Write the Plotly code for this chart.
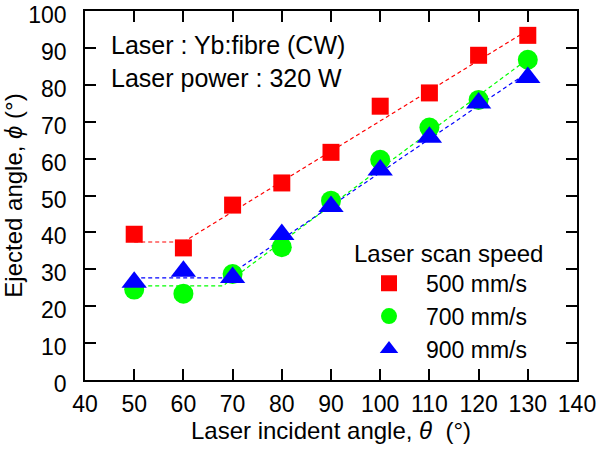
import plotly.graph_objects as go

# ---- data ----
angles = [50, 60, 70, 80, 90, 100, 110, 120, 130]
speed_labels = ["500 mm/s", "700 mm/s", "900 mm/s"]
phi_500 = [39.5, 35.8, 47.4, 53.4, 61.7, 74.2, 77.8, 88.0, 93.4]
phi_700 = [24.5, 23.4, 28.7, 36.0, 48.6, 59.7, 68.4, 75.9, 86.8]
phi_900 = [26.5, 29.5, 27.8, 39.4, 47.0, 56.9, 65.8, 75.1, 82.0]

# dashed guide lines (breakpoints)
fit_500_x = [50, 60, 130]
fit_500_y = [37.4, 37.4, 94.8]
fit_700_x = [50, 68, 130]
fit_700_y = [25.5, 25.5, 87.0]
fit_900_x = [50, 68.5, 130]
fit_900_y = [27.7, 27.7, 83.4]

x_ticks = [40, 50, 60, 70, 80, 90, 100, 110, 120, 130, 140]
y_ticks = [0, 10, 20, 30, 40, 50, 60, 70, 80, 90, 100]

colors = ["#ff0000", "#00ff00", "#0000ff"]
symbols = ["square", "circle", "triangle-up"]
sizes = [17, 20, 22]

FONT = "Liberation Sans, Arial, sans-serif"

fig = go.Figure()

fits = [(fit_500_x, fit_500_y), (fit_700_x, fit_700_y), (fit_900_x, fit_900_y)]
for (fx, fy), c in zip(fits, colors):
    fig.add_trace(go.Scatter(x=fx, y=fy, mode="lines",
                             line=dict(color=c, width=1.2, dash="4px,3px"),
                             showlegend=False, hoverinfo="skip"))

for ys, name, c, s, sz in zip([phi_500, phi_700, phi_900], speed_labels, colors, symbols, sizes):
    fig.add_trace(go.Scatter(x=angles, y=ys, mode="markers", name=name,
                             marker=dict(color=c, symbol=s, size=sz, line=dict(width=0))))

axis_common = dict(showgrid=False, zeroline=False, showline=True, linecolor="black",
                   linewidth=1.5, mirror="ticks", ticks="inside", ticklen=11,
                   tickwidth=1.5, tickcolor="black", ticklabeloverflow="allow",
                   automargin=False,
                   tickfont=dict(family=FONT, size=23, color="black"))

fig.update_layout(
    width=600, height=455,
    margin=dict(l=85, r=23, t=11, b=75),
    paper_bgcolor="white", plot_bgcolor="white",
    font=dict(family=FONT, color="black"),
    xaxis=dict(range=[40, 140], tickvals=x_ticks, ticklabelstandoff=3,
               title=dict(text="Laser incident angle, <i>θ</i>  (°)",
                          font=dict(family=FONT, size=24), standoff=2),
               **axis_common),
    yaxis=dict(range=[0, 100], tickvals=y_ticks, ticklabelstandoff=12,
               ticklabelshift=4,
               title=dict(text="Ejected angle, <i>ϕ</i> (°)",
                          font=dict(family=FONT, size=24), standoff=6),
               **axis_common),
    legend=dict(x=0.5427, y=0.405, xanchor="left", yanchor="top",
                bgcolor="rgba(0,0,0,0)", itemwidth=64, tracegroupgap=0,
                font=dict(family=FONT, size=23, color="black"),
                title=dict(text="Laser scan speed", font=dict(family=FONT, size=24))),
    annotations=[dict(xref="paper", yref="paper", x=0.049, y=0.952,
                      xanchor="left", yanchor="top", align="left", showarrow=False,
                      text="Laser : Yb:fibre (CW)<br>Laser power : 320 W",
                      font=dict(family=FONT, size=25, color="black"))],
)

fig.write_html("out.html")
